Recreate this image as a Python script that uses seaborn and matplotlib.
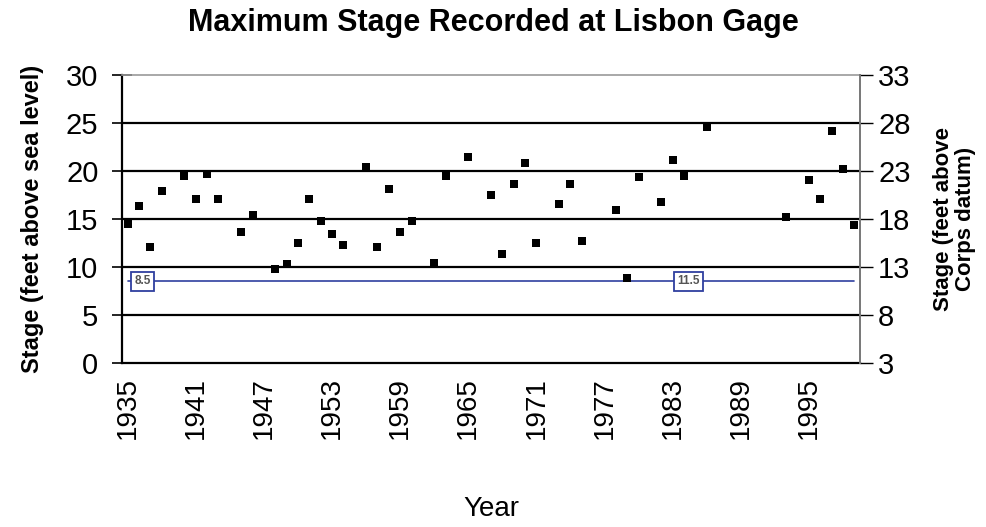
import pandas as pd
import matplotlib
matplotlib.use("Agg")
import matplotlib.pyplot as plt
import seaborn as sns
from matplotlib.ticker import FixedLocator

# Peak stage per year (feet above sea level)
years = [1935, 1936, 1937, 1938, 1940, 1941, 1942, 1943, 1945, 1946, 1948, 1949,
         1950, 1951, 1952, 1953, 1954, 1956, 1957, 1958, 1959, 1960, 1962, 1963,
         1965, 1967, 1968, 1969, 1970, 1971, 1973, 1974, 1975, 1978, 1979, 1980,
         1982, 1983, 1984, 1986, 1993, 1995, 1996, 1997, 1998, 1999]
stage = [14.5, 16.35, 12.05, 17.9, 19.5, 17.05, 19.7, 17.05, 13.65, 15.4, 9.8, 10.3,
         12.5, 17.05, 14.75, 13.4, 12.3, 20.4, 12.05, 18.15, 13.65, 14.75, 10.4, 19.5,
         21.5, 17.45, 11.4, 18.6, 20.85, 12.5, 16.55, 18.6, 12.7, 15.9, 8.9, 19.35,
         16.8, 21.1, 19.5, 24.55, 15.25, 19.05, 17.05, 24.15, 20.2, 14.35]

first_year, last_year = 1935, 1999
label_years = list(range(1935, 1996, 6))
left_ticks = [0, 5, 10, 15, 20, 25, 30]
datum_offset = 3
flood_stage = 8.5
flood_labels = ["8.5", "11.5"]
flood_label_years = [1936.3, 1984.4]

df = pd.DataFrame({"Year": years, "Stage": stage})

sns.set_style("white")
plt.rcParams["font.family"] = ["Liberation Sans", "DejaVu Sans"]
plt.rcParams["text.color"] = "black"
plt.rcParams["axes.labelcolor"] = "black"
plt.rcParams["xtick.color"] = "black"
plt.rcParams["ytick.color"] = "black"

fig = plt.figure(figsize=(9.87, 5.27), dpi=100)
ax = fig.add_axes([0.1236, 0.3112, 0.7477, 0.5465])

# grid lines
for v in left_ticks[1:-1]:
    ax.axhline(v, color="black", lw=1.6, zorder=1)

# flood stage line
blue = "#2f3f9f"
ax.plot([first_year, last_year], [flood_stage, flood_stage], color=blue, lw=1.2, zorder=2)
for txt, yr in zip(flood_labels, flood_label_years):
    ax.text(yr, flood_stage, txt, ha="center", va="center", fontsize=8.5, color="#555555",
            fontweight="bold", zorder=3,
            bbox=dict(boxstyle="square,pad=0.3", fc="white", ec=blue, lw=1.3))

sns.scatterplot(data=df, x="Year", y="Stage", marker="s", color="black", s=36,
                edgecolor="black", linewidth=0, ax=ax, zorder=4, legend=False)

ax.set_xlim(first_year - 0.5, last_year + 0.5)
ax.set_ylim(0, 30)

ax.xaxis.set_major_locator(FixedLocator(label_years))
ax.xaxis.set_minor_locator(FixedLocator([y + 0.5 for y in range(first_year - 1, last_year + 1)]))
ax.set_xticklabels([str(y) for y in label_years], rotation=90, fontsize=20)
ax.tick_params(axis="x", which="major", length=0, pad=10)
ax.tick_params(axis="x", which="minor", length=7, width=1, direction="out", color="black")

ax.set_yticks(left_ticks)
ax.tick_params(axis="y", which="major", labelsize=21, length=14, width=1.2,
               direction="inout", color="black", pad=10)

for side in ["left", "bottom"]:
    ax.spines[side].set_color("black")
    ax.spines[side].set_linewidth(1.6)
ax.spines["top"].set_color("#999999")
ax.spines["top"].set_linewidth(1.2)
ax.spines["right"].set_visible(False)

ax.set_xlabel("Year", fontsize=20, labelpad=41)
ax.set_ylabel("Stage (feet above sea level)", fontsize=17, fontweight="bold", labelpad=16)

ax2 = ax.twinx()
ax2.set_ylim(0 + datum_offset, 30 + datum_offset)
ax2.set_yticks([t + datum_offset for t in left_ticks])
ax2.tick_params(axis="y", labelsize=21, length=9, width=1, direction="out", color="black", pad=4)
ax2.spines["right"].set_color("#777777")
ax2.spines["right"].set_linewidth(1.4)
for side in ["left", "top", "bottom"]:
    ax2.spines[side].set_visible(False)
ax2.set_ylabel("Stage (feet above\nCorps datum)", fontsize=16, fontweight="bold",
               labelpad=16, linespacing=1.1)

fig.suptitle("Maximum Stage Recorded at Lisbon Gage", fontsize=22, fontweight="bold", y=0.985)

fig.savefig("out.png", dpi=100)
